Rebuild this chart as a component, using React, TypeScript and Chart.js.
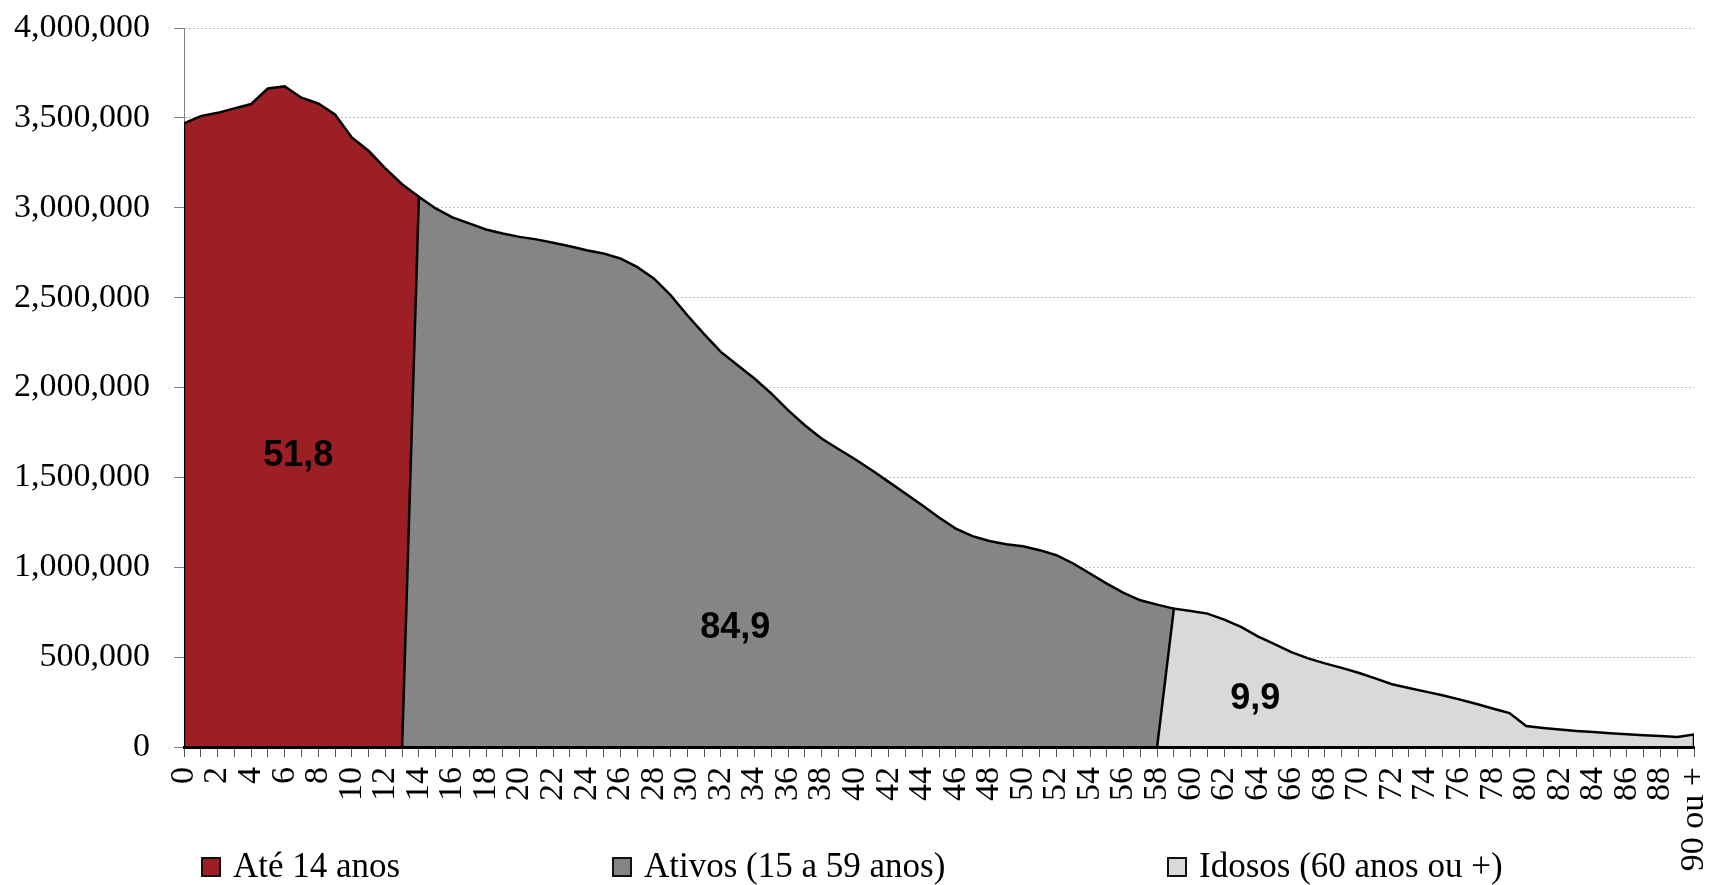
import React, { useEffect, useRef } from 'react';
import { Chart, registerables } from 'chart.js';

Chart.register(...registerables);

// Age categories (x axis)
const ageLabels: string[] = [
  '0', '1', '2', '3', '4', '5', '6', '7', '8', '9',
  '10', '11', '12', '13', '14', '15', '16', '17', '18', '19',
  '20', '21', '22', '23', '24', '25', '26', '27', '28', '29',
  '30', '31', '32', '33', '34', '35', '36', '37', '38', '39',
  '40', '41', '42', '43', '44', '45', '46', '47', '48', '49',
  '50', '51', '52', '53', '54', '55', '56', '57', '58', '59',
  '60', '61', '62', '63', '64', '65', '66', '67', '68', '69',
  '70', '71', '72', '73', '74', '75', '76', '77', '78', '79',
  '80', '81', '82', '83', '84', '85', '86', '87', '88', '89',
  '90 ou +',
];

const seriesNames: string[] = ['Até 14 anos', 'Ativos (15 a 59 anos)', 'Idosos (60 anos ou +)'];

// "Até 14 anos" : ages 0..14
const ate14Start = 0;
const ate14Values: number[] = [
  3469000, 3510000, 3528000, 3553000, 3577000, 3664000, 3675000, 3612000,
  3580000, 3519000, 3391000, 3317000, 3219000, 3131000, 3061000,
];

// "Ativos" : ages 14..59
const ativosStart = 14;
const ativosValues: number[] = [
  3061000, 2996000, 2946000, 2913000, 2879000, 2857000, 2838000, 2824000,
  2805000, 2786000, 2764000, 2746000, 2718000, 2671000, 2607000, 2514000,
  2402000, 2297000, 2198000, 2124000, 2050000, 1967000, 1874000, 1790000,
  1716000, 1658000, 1601000, 1540000, 1475000, 1410000, 1345000, 1277000,
  1215000, 1173000, 1146000, 1128000, 1117000, 1095000, 1067000, 1021000,
  965000, 909000, 857000, 816000, 792000, 770000,
];

// "Idosos" : ages 59..90+
const idososStart = 59;
const idososValues: number[] = [
  770000, 757000, 742000, 709000, 668000, 615000, 572000, 528000,
  493000, 465000, 440000, 413000, 382000, 349000, 328000, 308000,
  288000, 265000, 241000, 214000, 189000, 117000, 106000, 97000,
  89000, 83000, 77000, 71000, 66000, 61000, 56000, 69000,
];

// Share labels printed inside the areas
const shareTexts: string[] = ['51,8', '84,9', '9,9'];
const shareAges: number[] = [6.81, 32.86, 63.85];
const shareLevels: number[] = [1562000, 609000, 214000];

const seriesColors = ['#9B1F24', '#858585', '#D9D9D9'];

function areaPoints(start: number, values: number[], closeRight: boolean) {
  const pts: { x: number; y: number }[] = [];
  pts.push({ x: start === 0 ? 0 : start - 1, y: 0 });
  values.forEach((v, i) => pts.push({ x: start + i, y: v }));
  if (closeRight) pts.push({ x: start + values.length - 1, y: 0 });
  return pts;
}

const serifFamily = '"Liberation Serif", "Times New Roman", serif';

const shareLabelPlugin = {
  id: 'shareLabels',
  afterDatasetsDraw(chart: any) {
    const { ctx, scales } = chart;
    ctx.save();
    ctx.font = 'bold 36px "Liberation Sans", Arial, sans-serif';
    ctx.fillStyle = '#000';
    ctx.textAlign = 'center';
    ctx.textBaseline = 'alphabetic';
    shareTexts.forEach((t, i) => {
      ctx.fillText(t, scales.x.getPixelForValue(shareAges[i]), scales.y.getPixelForValue(shareLevels[i]));
    });
    ctx.restore();
  },
};

const legendLeft = [202, 613, 1168];

const bottomLegendPlugin = {
  id: 'bottomLegend',
  afterDraw(chart: any) {
    const { ctx } = chart;
    ctx.save();
    ctx.font = `35px ${serifFamily}`;
    ctx.textBaseline = 'alphabetic';
    ctx.textAlign = 'left';
    chart.data.datasets.forEach((ds: any, i: number) => {
      const x = legendLeft[i];
      ctx.fillStyle = ds.backgroundColor;
      ctx.fillRect(x, 858, 18, 18);
      ctx.lineWidth = 2;
      ctx.strokeStyle = '#111';
      ctx.strokeRect(x, 858, 18, 18);
      ctx.fillStyle = '#000';
      ctx.fillText(ds.label, x + 31, 877);
    });
    ctx.restore();
  },
};

export default function App() {
  const ref = useRef<HTMLCanvasElement>(null);

  useEffect(() => {
    if (!ref.current) return;
    const datasets = [
      { label: seriesNames[0], data: areaPoints(ate14Start, ate14Values, false), backgroundColor: seriesColors[0], order: 3 },
      { label: seriesNames[1], data: areaPoints(ativosStart, ativosValues, false), backgroundColor: seriesColors[1], order: 2 },
      { label: seriesNames[2], data: areaPoints(idososStart, idososValues, true), backgroundColor: seriesColors[2], order: 1 },
    ].map((d) => ({
      ...d,
      fill: 'origin',
      borderColor: '#000',
      borderWidth: 2.5,
      pointRadius: 0,
      pointHoverRadius: 0,
      tension: 0,
    }));

    const chart = new Chart(ref.current, {
      type: 'line',
      data: { datasets: datasets as any },
      options: {
        animation: false,
        responsive: false,
        events: [],
        layout: { padding: { top: 28, right: 17, left: 0, bottom: 0 } },
        plugins: {
          legend: { display: false },
          tooltip: { enabled: false },
        },
        scales: {
          x: {
            type: 'linear',
            min: 0,
            max: ageLabels.length - 1,
            afterFit: (s: any) => {
              s.height = 138;
              s.paddingLeft = 0;
              s.paddingRight = 0;
              s.paddingTop = 0;
              s.paddingBottom = 0;
            },
            grid: {
              drawOnChartArea: false,
              drawTicks: true,
              tickLength: 10,
              tickColor: '#555',
              tickWidth: 1,
            },
            border: { display: true, color: '#000', width: 3, z: 1 },
            ticks: {
              stepSize: 1,
              autoSkip: false,
              maxRotation: 90,
              minRotation: 90,
              padding: 10,
              color: '#000',
              font: { family: serifFamily, size: 34 },
              callback: (v: any) => {
                const n = Number(v);
                return n % 2 === 0 ? ageLabels[n] : '';
              },
            },
          },
          y: {
            min: 0,
            max: 4000000,
            afterFit: (s: any) => {
              s.width = 184;
              s.paddingLeft = 0;
              s.paddingRight = 0;
              s.paddingTop = 0;
              s.paddingBottom = 0;
            },
            grid: {
              color: '#BDBDBD',
              lineWidth: 1,
              drawTicks: true,
              tickLength: 10,
              tickColor: '#808080',
              tickWidth: 1,
            },
            border: { display: true, color: '#808080', width: 1, dash: [2, 2] },
            ticks: {
              stepSize: 500000,
              padding: 24,
              color: '#000',
              font: { family: serifFamily, size: 34 },
              callback: (v: any) => Number(v).toLocaleString('en-US'),
            },
          },
        },
      },
      plugins: [shareLabelPlugin, bottomLegendPlugin],
    } as any);

    return () => chart.destroy();
  }, []);

  return (
    <div style={{ position: 'fixed', left: 0, top: 0, width: 1711, height: 885, background: '#fff' }}>
      <canvas ref={ref} width={1711} height={885} style={{ display: 'block', width: 1711, height: 885 }} />
    </div>
  );
}
